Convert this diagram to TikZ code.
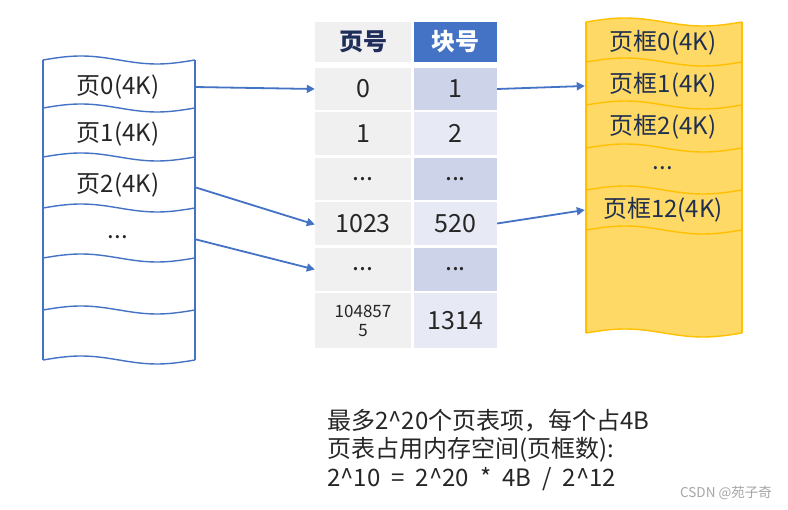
\documentclass[tikz,border=0pt]{standalone}
\usepackage{fontspec}
\setmainfont{Noto Sans CJK SC}
\usetikzlibrary{arrows.meta}
\definecolor{lineblue}{HTML}{4472C4}
\definecolor{hdrblue}{HTML}{4472C4}
\definecolor{cellgray}{HTML}{F0F0F0}
\definecolor{celldark}{HTML}{CDD4E9}
\definecolor{celllight}{HTML}{E7EAF5}
\definecolor{frfill}{HTML}{FFD966}
\definecolor{frline}{HTML}{FFC000}
\definecolor{txt}{HTML}{262626}
\definecolor{frtxt}{HTML}{1F2F50}
\definecolor{navy}{HTML}{1F2D5A}
\begin{document}
\begin{tikzpicture}[x=1pt,y=-1pt,
  lbl/.style={font=\fontsize{24}{27}\selectfont, text=txt, minimum width=152, inner sep=0pt},
  frl/.style={font=\fontsize{24}{27}\selectfont, text=frtxt, minimum width=156, inner sep=0pt},
  cell/.style={font=\fontsize{25}{28}\selectfont, text=txt, inner sep=0pt, align=center},
  lcell/.style={cell, fill=cellgray, minimum width=96},
  rcell/.style={cell, minimum width=83},
  conn/.style={draw=lineblue, line width=1.8pt, -{Triangle[length=8pt,width=8pt]}},
  note/.style={font=\fontsize{24}{28}\selectfont, text=txt, anchor=west, inner sep=0pt}]
\useasboundingbox (0,0) rectangle (788,510);
\fill[white] (0,0) rectangle (788,510);
% ---- left stack (pages)
\def\la{43}\def\lb{195}
\fill[white] plot[domain=0:1,samples=40] ({\la+(\lb-\la)*\x},{60-4*sin(360*\x)})
  -- plot[domain=1:0,samples=40] ({\la+(\lb-\la)*\x},{360-4*sin(360*\x)}) -- cycle;
\begin{scope}[draw=lineblue, line width=1.4pt]
\foreach \yy in {60,108,157,208,258,310,360}
  \draw plot[domain=0:1,samples=40] ({\la+(\lb-\la)*\x},{\yy-4*sin(360*\x)});
\draw (\la,60) -- (\la,360);
\draw (\lb,60) -- (\lb,360);
\end{scope}
\node[lbl] (p0) at (118,87) {页0(4K)};
\node[lbl] (p1) at (118,134) {页1(4K)};
\node[lbl] (p2) at (118,185) {页2(4K)};
\node[lbl] (pd) at (118,237) {...};
% ---- right stack (frames)
\def\ra{586}\def\rb{742}
\fill[frfill] plot[domain=0:1,samples=40] ({\ra+(\rb-\ra)*\x},{22-4*sin(360*\x)})
  -- plot[domain=1:0,samples=40] ({\ra+(\rb-\ra)*\x},{333-4*sin(360*\x)}) -- cycle;
\begin{scope}[draw=frline, line width=1.4pt]
\foreach \yy in {22,62,105,148,190,230,333}
  \draw plot[domain=0:1,samples=40] ({\ra+(\rb-\ra)*\x},{\yy-4*sin(360*\x)});
\draw (\ra,22) -- (\ra,333);
\draw (\rb,22) -- (\rb,333);
\end{scope}
\node[frl] (f0) at (663,43) {页框0(4K)};
\node[frl] (f1) at (663,85) {页框1(4K)};
\node[frl] (f2) at (663,127) {页框2(4K)};
\node[frl] (fd) at (663,168) {...};
\node[frl] (f12) at (663,210) {页框12(4K)};
% ---- table
\node[lcell, minimum height=40, text=navy, font=\fontsize{24}{27}\selectfont\bfseries] (h1) at (363,42) {页号};
\node[rcell, fill=hdrblue, minimum height=40, text=white, font=\fontsize{24}{27}\selectfont\bfseries] (h2) at (455.5,42) {块号};
\node[lcell, minimum height=42] (a0) at (363,89) {0};
\node[rcell, fill=celldark, minimum height=42] (b0) at (455.5,89) {1};
\node[lcell, minimum height=43] (a1) at (363,133.5) {1};
\node[rcell, fill=celllight, minimum height=43] (b1) at (455.5,133.5) {2};
\node[lcell, minimum height=42] (a2) at (363,179) {...};
\node[rcell, fill=celldark, minimum height=42] (b2) at (455.5,179) {...};
\node[lcell, minimum height=43] (a3) at (363,223.5) {1023};
\node[rcell, fill=celllight, minimum height=43] (b3) at (455.5,223.5) {520};
\node[lcell, minimum height=43] (a4) at (363,269.5) {...};
\node[rcell, fill=celldark, minimum height=43] (b4) at (455.5,269.5) {...};
\node[lcell, minimum height=55, font=\fontsize{17}{19}\selectfont] (a5) at (363,320.5) {104857\\5};
\node[rcell, fill=celllight, minimum height=55] (b5) at (455.5,320.5) {1314};
% ---- connectors
\draw[conn] (p0.east) -- (a0.west);
\draw[conn] ([yshift=-2pt]p2.east) -- ([yshift=-1pt]a3.west);
\draw[conn] ([yshift=-2pt]pd.east) -- (a4.west);
\draw[conn] (b0.east) -- ([yshift=-1pt]f1.west);
\draw[conn] (b3.east) -- (f12.west);
% ---- notes
\node[note] (t1) at (327,421) {最多2\^{}20个页表项，每个占4B};
\node[note] (t2) at (327,450) {页表占用内存空间(页框数):};
\node[note] (t3) at (327,479) {2\^{}10\hspace{11pt}=\hspace{11pt}2\^{}20\hspace{11pt}*\hspace{11pt}4B\hspace{11pt}/\hspace{11pt}2\^{}12};
\node[font=\fontsize{13.5}{15}\selectfont, text=gray!70, anchor=east, inner sep=0pt] (wm) at (772,493) {CSDN @苑子奇};
\end{tikzpicture}
\end{document}
